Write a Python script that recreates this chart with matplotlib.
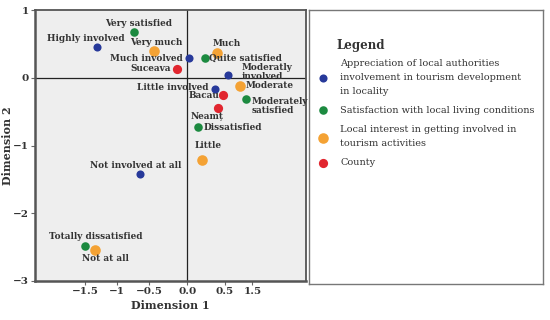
import matplotlib
matplotlib.use("Agg")
import matplotlib.pyplot as plt

# coordinates (dimension 1, dimension 2)
blue_labels = ["Highly involved", "Much involved", "Moderatly\ninvolved",
               "Little involved", "Not involved at all"]
blue_x = [-1.33, 0.03, 0.60, 0.40, -0.70]
blue_y = [0.46, 0.29, 0.04, -0.16, -1.42]

green_labels = ["Very satisfied", "Quite satisfied", "Moderately\nsatisfied",
                "Dissatisfied", "Totally dissatisfied"]
green_x = [-0.79, 0.26, 0.86, 0.16, -1.51]
green_y = [0.68, 0.29, -0.31, -0.73, -2.48]

orange_labels = ["Very much", "Much", "Moderate", "Little", "Not at all"]
orange_x = [-0.50, 0.44, 0.77, 0.22, -1.36]
orange_y = [0.39, 0.36, -0.12, -1.21, -2.54]

red_labels = ["Suceava", "Bacau", "Neamț"]
red_x = [-0.16, 0.53, 0.45]
red_y = [0.13, -0.25, -0.44]

legend_names = [
    "Appreciation of local authorities\ninvolvement in tourism development\nin locality",
    "Satisfaction with local living conditions",
    "Local interest in getting involved in\ntourism activities",
    "County",
]

xtick_labels = ["−1.5", "−1", "−0.5", "0.0", "0.5", "1.5"]

# label offsets in points (dx, dy, ha)
offs = {
    "Highly involved": (-8, 6, "center"), "Much involved": (-5, 0, "right"),
    "Moderatly\ninvolved": (10, 2, "left"), "Little involved": (-4, 0.5, "right"),
    "Not involved at all": (-3, 6, "center"),
    "Very satisfied": (3, 6, "center"), "Quite satisfied": (3, 0, "left"),
    "Moderately\nsatisfied": (4, -5, "left"), "Dissatisfied": (4, 0, "left"),
    "Totally dissatisfied": (8, 6.5, "center"),
    "Very much": (2, 6.5, "center"), "Much": (7, 7, "center"),
    "Moderate": (4, 0, "left"), "Little": (4, 10, "center"),
    "Not at all": (7.5, -6.5, "center"),
    "Suceava": (-4, 0, "right"), "Bacau": (-3, -0.5, "right"), "Neamț": (-8, -6.5, "center"),
}

serif = "DejaVu Serif"
txt_col = "#333333"

fig = plt.figure(figsize=(5.5, 3.2), dpi=100)
ax = fig.add_axes([35 / 550, 39 / 320, 271 / 550, 271 / 320])
ax.set_facecolor("#eeeeee")
ax.set_xlim(-2.25, 1.75)
ax.set_ylim(-3.0, 1.0)
ax.axhline(0, color="#222222", lw=0.9, zorder=1)
ax.axvline(0, color="#222222", lw=0.9, zorder=1)

series = [
    (blue_x, blue_y, blue_labels, "#27399a", 34),
    (green_x, green_y, green_labels, "#1c8a40", 38),
    (orange_x, orange_y, orange_labels, "#f4a234", 58),
    (red_x, red_y, red_labels, "#e1262f", 44),
]
handles = []
for xs, ys, labs, col, size in series:
    h = ax.scatter(xs, ys, s=size, color=col, zorder=3, linewidths=0)
    handles.append(h)
    for x, y, lab in zip(xs, ys, labs):
        dx, dy, ha = offs[lab]
        ax.annotate(lab, (x, y), xytext=(dx, dy), textcoords="offset points",
                    ha=ha, va="center", fontsize=6.4, fontweight="bold",
                    family=serif, color=txt_col, linespacing=0.95, zorder=4)

ax.set_xticks([-1.51, -1.04, -0.57, 0.0, 0.55, 0.96])
ax.set_xticklabels(xtick_labels)
ax.set_yticks([1, 0, -1, -2, -3])
ax.set_yticklabels(["1", "0", "−1", "−2", "−3"])
ax.tick_params(length=3, width=0.8, color="#666666", pad=1.5,
               labelsize=7.5, labelcolor=txt_col)
for lab in ax.get_xticklabels() + ax.get_yticklabels():
    lab.set_fontweight("bold")
    lab.set_family(serif)
for sp in ax.spines.values():
    sp.set_color("#555555")
    sp.set_linewidth(1.3)
ax.spines["left"].set_linewidth(1.8)
ax.spines["bottom"].set_linewidth(1.8)

ax.set_xlabel("Dimension 1", fontsize=8, fontweight="bold", family=serif,
              color=txt_col, labelpad=3)
ax.set_ylabel("Dimension 2", fontsize=8, fontweight="bold", family=serif,
              color=txt_col)
ax.yaxis.set_label_coords(-0.082, 0.5)

# legend box
lax = fig.add_axes([309 / 550, 36 / 320, 234 / 550, 274 / 320])
lax.set_xticks([])
lax.set_yticks([])
lax.set_facecolor("white")
for sp in lax.spines.values():
    sp.set_color("#777777")
    sp.set_linewidth(1.0)

fig.text(336 / 550, 1 - 45 / 320, "Legend", ha="left", va="center",
         family=serif, fontweight="bold", fontsize=8.5, color=txt_col)
leg = fig.legend(handles, legend_names, loc="upper left",
                 bbox_to_anchor=(318 / 550, 1 - 59 / 320), frameon=False,
                 prop={"family": serif, "size": 7}, handletextpad=1.3,
                 handlelength=1.0, labelspacing=1.05, borderpad=0,
                 borderaxespad=0)
for t in leg.get_texts():
    t.set_color(txt_col)
    t.set_linespacing(1.7)

fig.savefig("out.png", dpi=100)
